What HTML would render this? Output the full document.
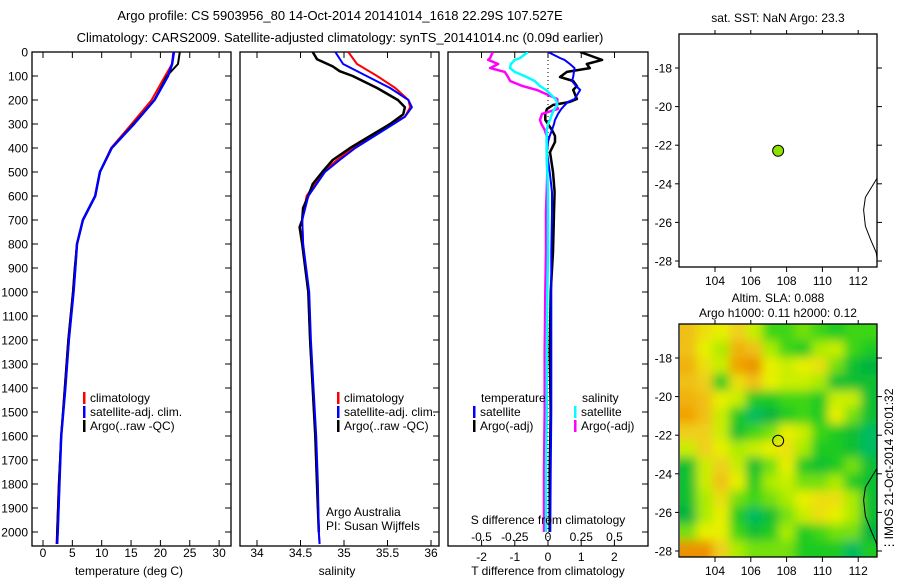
<!DOCTYPE html>
<html><head><meta charset="utf-8"><style>
html,body{margin:0;padding:0;background:#fff;}
svg{display:block;font-family:"Liberation Sans",sans-serif;}
</style></head><body>
<svg id="c" width="900" height="580" xmlns="http://www.w3.org/2000/svg">
<defs>
<clipPath id="clipMap"><rect x="680" y="324" width="197" height="233"/></clipPath>
<clipPath id="clipP1"><rect x="32" y="52" width="199" height="494"/></clipPath>
<clipPath id="clipP2"><rect x="240" y="52" width="199" height="494"/></clipPath>
<clipPath id="clipP3"><rect x="448" y="52" width="200" height="494"/></clipPath>
<filter id="blur" x="-5%" y="-5%" width="110%" height="110%"><feGaussianBlur stdDeviation="5"/></filter>
</defs>
<text x="340" y="20" font-size="13" text-anchor="middle">Argo profile: CS 5903956_80 14-Oct-2014 20141014_1618 22.29S 107.527E</text>
<text x="340" y="42" font-size="13" text-anchor="middle">Climatology: CARS2009. Satellite-adjusted climatology: synTS_20141014.nc (0.09d earlier)</text>
<g id="g"></g>
</svg>
<script>
// ---------- data ----------
var depthTicks=[0,100,200,300,400,500,600,700,800,900,1000,1100,1200,1300,1400,1500,1600,1700,1800,1900,2000];
var tempTicks=[0,5,10,15,20,25,30];
var salTicks=[34,34.5,35,35.5,36];
var tdiffTicks=[-2,-1,0,1,2];
var sdiffTicks=[-0.5,-0.25,0,0.25,0.5];
var sdiffLabels=["-0.5","-0.25","0","0.25","0.5"];

var tDepth=[0,50,100,200,300,400,500,600,700,800,900,1000,1200,1400,1600,1800,2000,2050];
var tClim=[22.2,22.0,20.8,18.5,15.1,11.6,9.7,8.9,6.8,5.8,5.4,5.1,4.3,3.7,3.1,2.7,2.4,2.3];
var tSat=[22.3,22.0,21.3,19.0,15.5,11.7,9.7,8.9,6.8,5.8,5.5,5.2,4.4,3.8,3.1,2.8,2.5,2.4];
var tArgo=[23.3,23.0,21.1,19.0,15.4,11.7,9.7,8.9,6.8,5.8,5.4,5.1,4.3,3.7,3.1,2.7,2.4,2.4];

var sDepthClim=[0,50,100,150,200,230,270,300,400,450,500,600,700,800,1000,1200,1400,1600,1800,2000,2050];
var sClim=[35.05,35.15,35.38,35.59,35.74,35.76,35.70,35.53,35.10,34.92,34.76,34.57,34.52,34.53,34.59,34.61,34.64,34.67,34.69,34.71,34.72];
var sSat=[34.90,34.99,35.26,35.53,35.74,35.78,35.70,35.57,35.13,34.95,34.78,34.59,34.52,34.53,34.60,34.62,34.65,34.68,34.70,34.71,34.72];
var sDepthArgo=[0,30,60,80,100,150,200,230,260,300,350,400,450,500,550,600,650,700,730,800,1000,1200,1400,1600,1800,2000];
var sArgo=[34.64,34.69,34.87,34.95,35.10,35.38,35.62,35.70,35.68,35.53,35.30,35.07,34.87,34.75,34.64,34.59,34.53,34.52,34.49,34.52,34.59,34.61,34.64,34.67,34.69,34.71];

var dDepth=[0,25,33,50,67,83,104,121,142,158,196,208,221,237,258,283,300,325,350,375,417,500,583,667,833,1000,1250,1500,1750,2000];
var dTArgo=[0.97,1.47,1.63,1.17,1.26,0.57,0.36,0.76,0.87,0.76,0.87,0.66,0.15,-0.03,-0.08,-0.08,0.0,0.12,0.21,0.21,0.06,0.15,0.2,0.18,0.15,0.08,0.05,0.08,0.05,0.05];
var dTSat=[0.0,0.36,0.5,0.66,0.8,0.78,0.76,0.72,0.85,0.97,0.8,0.6,0.51,0.4,0.3,0.21,0.18,0.12,0.05,0.0,-0.03,0.05,0.12,0.12,0.1,0.1,0.1,0.1,0.08,0.07];
var dSSat=[-0.15,-0.21,-0.25,-0.28,-0.285,-0.25,-0.16,-0.1,-0.06,-0.015,0.055,0.065,0.07,0.05,0.03,0.015,0.0,-0.01,-0.01,-0.01,-0.01,-0.005,0,0,0,-0.005,-0.01,-0.01,-0.015,-0.015];
var dSArgo=[-0.415,-0.435,-0.45,-0.375,-0.435,-0.325,-0.3,-0.285,-0.19,-0.085,0.07,0.07,0.06,0.075,-0.045,-0.06,-0.05,-0.025,-0.01,-0.01,-0.01,-0.005,-0.01,-0.015,-0.015,-0.02,-0.025,-0.025,-0.03,-0.03];

var lonTicks=[104,106,108,110,112];
var latTicks=[-18,-20,-22,-24,-26,-28];
var latLabels=["-18","-20","-22","-24","-26","-28"];
var argoLon=107.527, argoLat=-22.29;
var coastLon=[113.06,112.7,112.4,112.3,112.4,112.7,113.0,113.06];
var coastLat=[-23.7,-24.25,-24.7,-25.35,-26.2,-26.9,-27.55,-27.9];
// SLA grid (relative 0..1), 14 rows x 12 cols, north to south
var sla=[
[0.75,0.65,0.6,0.7,0.55,0.4,0.4,0.45,0.4,0.35,0.4,0.4],
[0.75,0.6,0.5,0.8,0.75,0.5,0.4,0.35,0.5,0.55,0.4,0.35],
[0.8,0.65,0.55,0.85,0.9,0.6,0.55,0.6,0.65,0.45,0.3,0.25],
[0.75,0.7,0.35,0.65,0.75,0.6,0.55,0.55,0.5,0.3,0.3,0.3],
[0.8,0.75,0.6,0.55,0.35,0.35,0.4,0.4,0.35,0.55,0.55,0.3],
[0.85,0.75,0.55,0.35,0.2,0.25,0.35,0.4,0.35,0.6,0.45,0.3],
[0.7,0.7,0.55,0.3,0.4,0.45,0.6,0.55,0.4,0.35,0.3,0.2],
[0.55,0.7,0.6,0.5,0.55,0.6,0.65,0.5,0.35,0.35,0.3,0.2],
[0.3,0.55,0.7,0.55,0.3,0.45,0.6,0.35,0.3,0.35,0.45,0.3],
[0.3,0.55,0.75,0.6,0.35,0.5,0.55,0.45,0.45,0.5,0.35,0.3],
[0.3,0.5,0.65,0.45,0.4,0.45,0.5,0.6,0.65,0.65,0.5,0.3],
[0.25,0.5,0.6,0.35,0.2,0.3,0.45,0.55,0.65,0.6,0.5,0.3],
[0.45,0.6,0.6,0.4,0.3,0.35,0.5,0.35,0.4,0.45,0.45,0.25],
[0.9,0.9,0.7,0.5,0.45,0.45,0.45,0.35,0.35,0.35,0.2,0.35]];

// ---------- helpers ----------
var NS="http://www.w3.org/2000/svg";
var G=document.getElementById('g');
function el(t,a,p){var e=document.createElementNS(NS,t);for(var k in a)e.setAttribute(k,a[k]);(p||G).appendChild(e);return e;}
function txt(x,y,s,a,p){var e=el('text',Object.assign({x:x,y:y,'font-size':12},a||{}),p);e.textContent=s;return e;}
function dy(d){return 52+d*0.24;}
function tx(v){return 43+v*5.87;}
function sx(v){return 257+(v-34)*87;}
function dtx(v){return 548+v*33.2;}
function dsx(v){return 548+v*133;}
function lonX(l){return 715+(l-104)*17.9;}
function latY(l,off){return off+68+(-18-l)*19.3;}

function panel(x,name){
  var w=(x==448?200:199);
  var r=el('rect',{x:x,y:52,width:w,height:494,fill:'none',stroke:'#000','stroke-width':1.3});
  
  
  depthTicks.forEach(function(d){
    var y=dy(d);
    var t=el('line',{x1:x+w,x2:x+w-6,y1:y,y2:y,stroke:'#000'});
    
    
    if(x==32){var t2=el('line',{x1:x,x2:x+6,y1:y,y2:y,stroke:'#000'});
      
      
      var l=txt(28,y+4.5,String(d),{'text-anchor':'end'});
      
      }
  });
}
function xticks(vals,labels,fx,y,top,ly){
  vals.forEach(function(v,i){
    var x=fx(v);
    var a=el('line',{x1:x,x2:x,y1:546,y2:540,stroke:'#000'});
    
    
    if(top){var b=el('line',{x1:x,x2:x,y1:52,y2:58,stroke:'#000'});
      
      }
    var l=txt(x,ly,labels[i],{'text-anchor':'middle'});
    
    
  });
}
function line(vals,depths,fx,color,w,clip,name){
  var pts=vals.map(function(v,i){return fx(v).toFixed(1)+','+dy(depths[i]).toFixed(1);}).join(' ');
  var p=el('polyline',{points:pts,fill:'none',stroke:color,'stroke-width':w,'stroke-linejoin':'round','clip-path':'url(#'+clip+')'});
  
  
}
function legend(x,y,color,label,name){
  var m=el('rect',{x:x,y:y-10,width:2.5,height:12,fill:color});
  
  
  var t=txt(x+7,y,label,{});
  
  
}

// ---------- panel 1: temperature ----------
panel(32,'temperature-panel');
xticks(tempTicks,tempTicks.map(String),tx,546,true,557);
line(tClim,tDepth,tx,'#f00',2,'clipP1','temperature-climatology-line');
line(tSat,tDepth,tx,'#00f',2.5,'clipP1','temperature-satellite-line');
line(tArgo,tDepth,tx,'#000',2,'clipP1','temperature-argo-line');
line(tSat,tDepth,tx,'#00f',2,'clipP1','temperature-satellite-line-top');
var xl=txt(129,575,'temperature (deg C)',{'text-anchor':'middle'});


legend(83,402,'#f00','climatology','legend-climatology');
legend(83,416,'#00f','satellite-adj. clim.','legend-satellite-adj');
legend(83,430,'#000','Argo(..raw -QC)','legend-argo');

// ---------- panel 2: salinity ----------
panel(240,'salinity-panel');
xticks(salTicks,["34","34.5","35","35.5","36"],sx,546,true,557);
line(sClim,sDepthClim,sx,'#f00',2,'clipP2','salinity-climatology-line');
line(sArgo,sDepthArgo,sx,'#000',2.5,'clipP2','salinity-argo-line');
line(sSat,sDepthClim,sx,'#00f',2,'clipP2','salinity-satellite-line');
var xl2=txt(337,575,'salinity',{'text-anchor':'middle'});


legend(337,402,'#f00','climatology','legend-climatology-2');
legend(337,416,'#00f','satellite-adj. clim.','legend-satellite-adj-2');
legend(337,430,'#000','Argo(..raw -QC)','legend-argo-2');
var a1=txt(326,516,'Argo Australia',{});


var a2=txt(326,530,'PI: Susan Wijffels',{});



// ---------- panel 3: differences ----------
panel(448,'difference-panel');
xticks(tdiffTicks,tdiffTicks.map(String),dtx,546,false,561);
sdiffTicks.forEach(function(v,i){
  var b=el('line',{x1:dsx(v),x2:dsx(v),y1:52,y2:58,stroke:'#000'});
  
  
  var l=txt(dsx(v),541,sdiffLabels[i],{'text-anchor':'middle'});
  
  
});
var zl=el('line',{x1:548,x2:548,y1:52,y2:546,stroke:'#000','stroke-dasharray':'1,3'});


line(dTArgo,dDepth,dtx,'#000',2.5,'clipP3','t-diff-argo-line');
line(dSArgo,dDepth,dsx,'#f0f',2.5,'clipP3','s-diff-argo-line');
line(dTSat,dDepth,dtx,'#00f',2,'clipP3','t-diff-satellite-line');
line(dSSat,dDepth,dsx,'#0ff',2.5,'clipP3','s-diff-satellite-line');
var sl=txt(548,524,'S difference from climatology',{'text-anchor':'middle'});


var tl=txt(548,575,'T difference from climatology',{'text-anchor':'middle'});


var lt=txt(481,402,'temperature',{});


var ls=txt(582,402,'salinity',{});


legend(473,416,'#00f','satellite','legend-t-satellite');
legend(473,430,'#000','Argo(-adj)','legend-t-argo');
legend(574,416,'#0ff','satellite','legend-s-satellite');
legend(574,430,'#f0f','Argo(-adj)','legend-s-argo');

// ---------- maps ----------
function mapFrame(off,name){
  var r=el('rect',{x:679,y:off+34,width:198,height:233,fill:'none',stroke:'#000','stroke-width':1.3});
  
  
  lonTicks.forEach(function(l){
    var x=lonX(l);
    var a=el('line',{x1:x,x2:x,y1:off+267,y2:off+272,stroke:'#000'});
    
    
    var b=el('line',{x1:x,x2:x,y1:off+34,y2:off+30,stroke:'#000'});
    
    
    var t=txt(x,off+285,String(l),{'text-anchor':'middle'});
    
    
  });
  latTicks.forEach(function(l,i){
    var y=latY(l,off);
    var a=el('line',{x1:877,x2:882,y1:y,y2:y,stroke:'#000'});
    
    
    var a2=el('line',{x1:679,x2:675,y1:y,y2:y,stroke:'#000'});
    
    
    var t=txt(672,y+4.5,latLabels[i],{'text-anchor':'end'});
    
    
  });
}
function coast(off){
  var pts=coastLon.map(function(l,i){return lonX(l).toFixed(1)+','+latY(coastLat[i],off).toFixed(1);}).join(' ');
  var p=el('polyline',{points:pts,fill:'none',stroke:'#000','stroke-width':1});
  
  
}
// upper map
var mt=txt(778,22,'sat. SST: NaN Argo: 23.3',{'text-anchor':'middle'});


mapFrame(0,'sst-map');
coast(0);
var dot=el('circle',{cx:lonX(argoLon),cy:latY(argoLat,0),r:5.5,fill:'#8ee000',stroke:'#000','stroke-width':1});



// lower map heatmap
var stops=[[0.1,[0,200,160]],[0.25,[0,180,64]],[0.38,[40,208,24]],[0.5,[170,236,0]],[0.6,[232,240,0]],[0.72,[240,200,32]],[0.86,[240,160,0]],[1,[224,112,0]]];
function cmap(v){
  if(v<=stops[0][0])return 'rgb('+stops[0][1]+')';
  for(var i=1;i<stops.length;i++){if(v<=stops[i][0]){var a=stops[i-1],b=stops[i],f=(v-a[0])/(b[0]-a[0]);
    return 'rgb('+a[1].map(function(c,k){return Math.round(c+(b[1][k]-c)*f);}).join(',')+')';}}
  return 'rgb('+stops[stops.length-1][1]+')';
}
var hg=el('g',{'clip-path':'url(#clipMap)'});


var inner=el('g',{filter:'url(#blur)'},hg);
var nr=sla.length,nc=sla[0].length,cw=197/nc,ch=233/nr;
for(var r=0;r<nr;r++)for(var c=0;c<nc;c++){
  var x0=680+c*cw,y0=324+r*ch,w=cw+0.5,h=ch+0.5;
  if(c==0){x0-=20;w+=20;} if(c==nc-1){w+=20;}
  if(r==0){y0-=20;h+=20;} if(r==nr-1){h+=20;}
  var cell=el('rect',{x:x0,y:y0,width:w,height:h,fill:cmap(sla[r][c])},inner);
  
  
}
var m1=txt(778,302,'Altim. SLA: 0.088',{'text-anchor':'middle'});


var m2=txt(778,317,'Argo h1000: 0.11 h2000: 0.12',{'text-anchor':'middle'});


mapFrame(290,'sla-map');
coast(290);
var oc=el('circle',{cx:lonX(argoLon),cy:latY(argoLat,290),r:5.5,fill:'none',stroke:'#000','stroke-width':1});


var im=txt(0,0,'⋮IMOS 21-Oct-2014 20:01:32',{'text-anchor':'middle',transform:'translate(893,470) rotate(-90)'});


</script>
</body></html>
